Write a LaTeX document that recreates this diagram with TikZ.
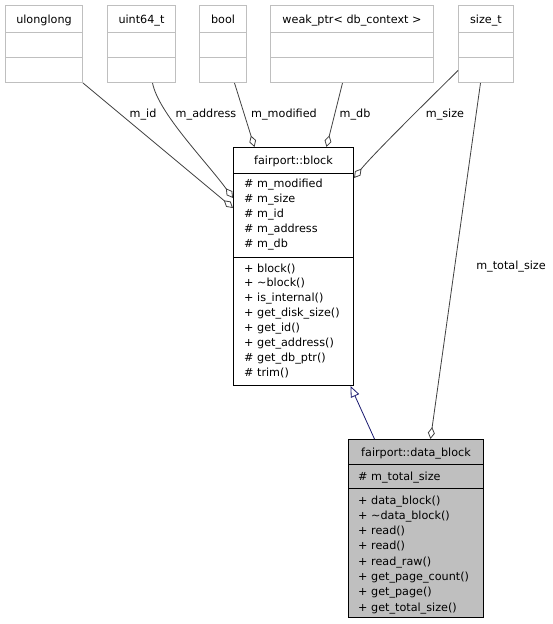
\documentclass[tikz,border=0pt]{standalone}
\usepackage{fontspec}
\setmainfont{DejaVu Sans}
\usetikzlibrary{arrows.meta}
\definecolor{boxgray}{HTML}{BFBFBF}
\definecolor{edgegray}{HTML}{404040}
\definecolor{inhnavy}{HTML}{191970}
\tikzset{
  txt/.style={inner sep=0pt, font=\fontsize{11.2}{14}\selectfont, text height=8pt, text depth=0pt},
  member/.style={txt, anchor=west},
  extbox/.style={draw=boxgray, line width=1pt, inner sep=0pt, anchor=north west, minimum height=77pt},
  sepgray/.style={draw=boxgray, line width=1pt},
  classbox/.style={draw=black, line width=1pt, inner sep=0pt, anchor=north west},
  agg/.style={draw=edgegray, line width=0.8pt, -{Diamond[open, length=12pt, width=7pt, line width=0.8pt]}},
  inh/.style={draw=inhnavy, line width=0.8pt, -{Triangle[open, length=11pt, width=9pt, line width=0.8pt, fill=white]}},
}
\begin{document}
\begin{tikzpicture}[x=1pt, y=-1pt]
\useasboundingbox (0,0) rectangle (553,624);
\fill[white] (0,0) rectangle (553,624);

% external type boxes
\node[extbox, minimum width=77pt] (ulonglong) at (5,5) {};
\node[extbox, minimum width=68pt] (uint) at (107,5) {};
\node[extbox, minimum width=47pt] (bool) at (199,5) {};
\node[extbox, minimum width=163pt] (weak) at (270,5) {};
\node[extbox, minimum width=55pt] (sizet) at (458,5) {};
\foreach \b in {ulonglong, uint, bool, weak, sizet} {
  \draw[sepgray] ([yshift=-27pt]\b.north west) -- ([yshift=-27pt]\b.north east);
  \draw[sepgray] ([yshift=-52pt]\b.north west) -- ([yshift=-52pt]\b.north east);
}
\node[txt] (ulonglong-t) at ([yshift=-14pt]ulonglong.north) {ulonglong};
\node[txt] (uint-t) at ([yshift=-14pt]uint.north) {uint64\_t};
\node[txt] (bool-t) at ([yshift=-14pt]bool.north) {bool};
\node[txt] (weak-t) at ([yshift=-14pt]weak.north) {weak\_ptr< db\_context >};
\node[txt] (sizet-t) at ([yshift=-14pt]sizet.north) {size\_t};

% fairport::block
\node[classbox, fill=white, minimum width=120pt, minimum height=238pt] (block) at (233,147) {};
\draw[line width=1pt] ([yshift=-26pt]block.north west) -- ([yshift=-26pt]block.north east);
\draw[line width=1pt] ([yshift=-110pt]block.north west) -- ([yshift=-110pt]block.north east);
\node[txt] (block-t) at ([yshift=-13.5pt]block.north) {fairport::block};
\foreach \t [count=\i] in {\# m\_modified, \# m\_size, \# m\_id, \# m\_address, \# m\_db}
  \node[member] (block-a\i) at (244, 183+15*\i-15) {\t};
\foreach \t [count=\i] in {+ block(), + \textasciitilde block(), + is\_internal(), + get\_disk\_size(), + get\_id(), + get\_address(), \# get\_db\_ptr(), \# trim()}
  \node[member] (block-m\i) at (244, 268+14.9*\i-14.9) {\t};

% fairport::data_block
\node[classbox, fill=boxgray, minimum width=135pt, minimum height=178pt] (data) at (348,439) {};
\draw[line width=1pt] ([yshift=-25pt]data.north west) -- ([yshift=-25pt]data.north east);
\draw[line width=1pt] ([yshift=-49pt]data.north west) -- ([yshift=-49pt]data.north east);
\node[txt] (data-t) at ([yshift=-13pt]data.north) {fairport::data\_block};
\node[member] (data-a1) at (358, 476) {\# m\_total\_size};
\foreach \t [count=\i] in {+ data\_block(), + \textasciitilde data\_block(), + read(), + read(), + read\_raw(), + get\_page\_count(), + get\_page(), + get\_total\_size()}
  \node[member] (data-m\i) at (358, 500+15.3*\i-15.3) {\t};

% connectors
\draw[agg] (ulonglong.south east) -- ([yshift=-61pt]block.north west);
\draw[agg] ([xshift=11pt]uint.south) .. controls +(6,30) and +(-28,-38) .. ([yshift=-51pt]block.north west);
\draw[agg] ([xshift=11.5pt]bool.south) -- ([xshift=-39pt]block.north);
\draw[agg] ([xshift=-9.5pt]weak.south) -- ([xshift=33pt]block.north);
\draw[agg] ([yshift=-26.5pt]sizet.west) .. controls +(-15,15) and +(20,-25) .. ([yshift=-31pt]block.north east);
\draw[agg] ([xshift=-5.5pt]sizet.south) -- ([xshift=14.5pt]data.north);
\draw[inh] ([xshift=-41.5pt]data.north) -- ([xshift=57pt]block.south);

% connector labels
\node[txt] (l-id) at (143,113) {m\_id};
\node[txt] (l-address) at (206,113) {m\_address};
\node[txt] (l-modified) at (284,113) {m\_modified};
\node[txt] (l-db) at (355,113) {m\_db};
\node[txt] (l-size) at (445,113) {m\_size};
\node[txt] (l-total) at (511,265) {m\_total\_size};
\end{tikzpicture}
\end{document}
